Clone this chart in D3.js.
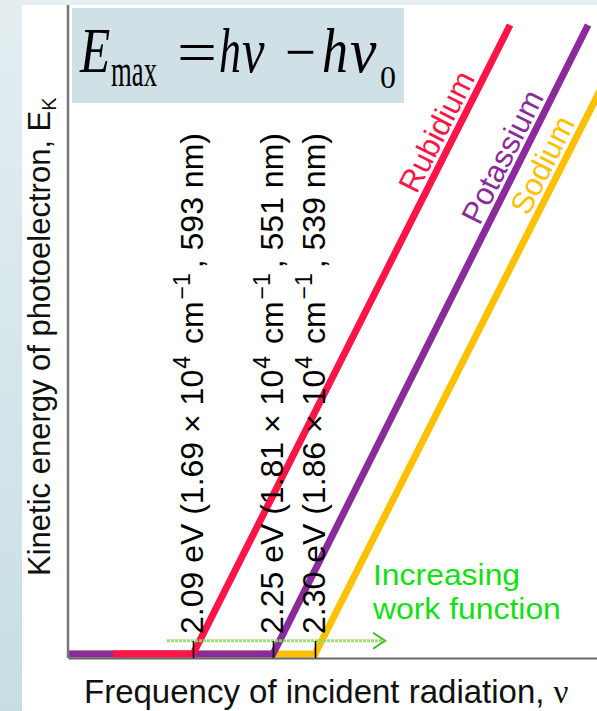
<!DOCTYPE html>
<html>
<head>
<meta charset="utf-8">
<script src="https://cdn.jsdelivr.net/npm/d3@7"></script>
<style>
  html, body { margin: 0; padding: 0; background: #fff; }
  svg { display: block; }
</style>
</head>
<body>
<div id="chart"></div>
<script>
// Photoelectric effect: kinetic energy of photoelectrons vs. frequency for three alkali metals
const metals = ["Rubidium", "Potassium", "Sodium"];
const workFunction = [2.09, 2.25, 2.30];      // threshold energy hν0, eV
const wavenumber = ["1.69", "1.81", "1.86"];  // threshold, ×10^4 cm^-1
const wavelength = [593, 551, 539];           // threshold, nm
const metalColors = ["#ff1447", "#8b2b9b", "#ffc000"];
const flatStart = [1.93, 1.84, 1.84];         // where each zero-energy run begins (ν axis, eV)
const lineEnd = [2.715, 2.881, 2.977];        // ν at the top of each line
const lineTopE = [1, 1, 1];                   // relative kinetic energy at the top of each line
const labelAt = [0.725, 0.675, 0.69];         // relative energy where each metal name starts
const arrowSpan = [2.038, 2.449];             // "increasing work function" arrow, ν axis
const arrowE = 0.021;

const W = 597, H = 711;
const svg = d3.select("#chart").append("svg")
  .attr("width", W).attr("height", H);

// page background: pale blue frame on the left and top
const defs = svg.append("defs");
const grad = defs.append("linearGradient").attr("id", "side")
  .attr("x1", 0).attr("y1", 0).attr("x2", 0).attr("y2", 1);
grad.append("stop").attr("offset", "0%").attr("stop-color", "#e4eef1");
grad.append("stop").attr("offset", "100%").attr("stop-color", "#c7dee5");
svg.append("rect").attr("width", W).attr("height", H).attr("fill", "#fff");
svg.append("rect").attr("x", 0).attr("y", 0).attr("width", W).attr("height", 5).attr("fill", "#e6eff2");
svg.append("rect").attr("x", 0).attr("y", 0).attr("width", 22).attr("height", H).attr("fill", "url(#side)");

// scales: the frequency axis is schematic, so it is piecewise linear
const x = d3.scaleLinear().domain([1.84, 2.25, 2.30, 2.90]).range([68, 273, 315, 597]);
const y = d3.scaleLinear().domain([0, 1]).range([654, 25]);

// formula box: E_max = hν − hν0, each piece fitted to its own width
svg.append("rect").attr("x", 72).attr("y", 8).attr("width", 332).attr("height", 95)
  .attr("fill", "#cfe1e6");
const formula = [
  {t: "E",   x: 80,  y: 72, size: 64, it: true,  w: 31},
  {t: "max", x: 111, y: 86, size: 46, it: false, w: 46},
  {t: "=",   x: 177, y: 72, size: 60, it: false, w: 40},
  {t: "h",   x: 219, y: 72, size: 64, it: true,  w: 22},
  {t: "ν",   x: 242, y: 72, size: 64, it: true,  w: 23},
  {t: "−",   x: 285, y: 72, size: 60, it: false, w: 31},
  {t: "h",   x: 322, y: 72, size: 64, it: true,  w: 26},
  {t: "ν",   x: 350, y: 72, size: 64, it: true,  w: 27},
  {t: "0",   x: 380, y: 88, size: 32, it: false, w: 16}
];
const fG = svg.append("g");
formula.forEach(d => {
  const t = fG.append("text")
    .attr("font-family", "'Liberation Serif', 'Times New Roman', serif")
    .attr("font-size", d.size)
    .attr("font-style", d.it ? "italic" : "normal")
    .attr("fill", "#000")
    .text(d.t);
  const bw = t.node().getBBox().width || d.w;
  t.attr("transform", `translate(${d.x},${d.y}) scale(${d.w / bw},1)`);
});

// metal lines: zero below threshold, rising linearly above it (drawn back to front)
const order = [2, 1, 0];
const line = d3.line().x(d => x(d[0])).y(d => y(d[1]));
const plot = svg.append("g");
plot.selectAll("path").data(order).join("path")
  .attr("d", i => line([[flatStart[i], 0], [workFunction[i], 0], [lineEnd[i], lineTopE[i]]]))
  .attr("fill", "none")
  .attr("stroke", i => metalColors[i])
  .attr("stroke-width", 7)
  .attr("stroke-linejoin", "miter");

// metal names along their lines
const nameG = svg.append("g");
metals.forEach((m, i) => {
  const x0 = x(workFunction[i]), y0 = y(0);
  const x1 = x(lineEnd[i]), y1 = y(lineTopE[i]);
  const ang = Math.atan2(y1 - y0, x1 - x0);
  const f = labelAt[i];
  const px = x0 + (x1 - x0) * f, py = y0 + (y1 - y0) * f;
  const off = 7;
  const ax = px + Math.sin(ang) * off, ay = py - Math.cos(ang) * off;
  nameG.append("text")
    .attr("transform", `translate(${ax},${ay}) rotate(${ang * 180 / Math.PI})`)
    .attr("font-family", "'Liberation Sans', Arial, sans-serif")
    .attr("font-size", 31)
    .attr("fill", metalColors[i])
    .text(m);
});

// "increasing work function" arrow
const ay = y(arrowE);
svg.append("line")
  .attr("x1", x(arrowSpan[0])).attr("x2", x(arrowSpan[1]))
  .attr("y1", ay).attr("y2", ay)
  .attr("stroke", "#8fdc6a").attr("stroke-width", 3).attr("stroke-dasharray", "3,1")
  .attr("opacity", 0.9);
svg.append("path")
  .attr("d", `M${x(arrowSpan[1]) - 12},${ay - 8}L${x(arrowSpan[1])},${ay}L${x(arrowSpan[1]) - 12},${ay + 8}`)
  .attr("fill", "none").attr("stroke", "#3cc020").attr("stroke-width", 2);
const green = svg.append("g").attr("transform", "translate(373,0) scale(1.1,1)")
  .attr("font-family", "'Liberation Sans', Arial, sans-serif")
  .attr("font-size", 29).attr("fill", "#12e012");
green.append("text").attr("x", 0).attr("y", 585).text("Increasing");
green.append("text").attr("x", 0).attr("y", 619).text("work function");

// axes: frequency axis with threshold ticks, energy axis without ticks
svg.append("line").attr("x1", 68).attr("x2", 68).attr("y1", 5).attr("y2", 658)
  .attr("stroke", "#777").attr("stroke-width", 2.5);
const xAxis = svg.append("g").attr("transform", "translate(0,658)")
  .call(d3.axisTop(x).tickValues(workFunction).tickSize(17).tickFormat("").tickSizeOuter(0));
xAxis.select(".domain").attr("stroke", "#666").attr("stroke-width", 2);
xAxis.selectAll(".tick line").attr("stroke", "#000").attr("stroke-width", 1.6);

// threshold labels, written upward beside each tick
const thr = svg.append("g")
  .attr("font-family", "'Liberation Sans', Arial, sans-serif")
  .attr("font-size", 32).attr("fill", "#000");
workFunction.forEach((wf, i) => {
  const t = thr.append("text")
    .attr("transform", `translate(${x(wf) + 10},634) rotate(-90)`);
  t.append("tspan").text(`${wf.toFixed(2)} eV (${wavenumber[i]} × 10`);
  t.append("tspan").attr("font-size", 23).attr("dy", -13).attr("dx", 1).text("4");
  t.append("tspan").attr("dy", 13).attr("dx", 3).text(" cm");
  t.append("tspan").attr("font-size", 23).attr("dy", -13).attr("dx", 2).text("−1");
  t.append("tspan").attr("dy", 13).attr("dx", 5).text(`, ${wavelength[i]} nm)`);
});

// axis titles
svg.append("text").attr("x", 84).attr("y", 703)
  .attr("font-family", "'Liberation Sans', Arial, sans-serif")
  .attr("font-size", 33).attr("fill", "#111")
  .text("Frequency of incident radiation, ")
  .append("tspan").attr("font-family", "'Liberation Serif', 'Times New Roman', serif").text("ν");
const yt = svg.append("text").attr("transform", "translate(50,576) rotate(-90)")
  .attr("font-family", "'Liberation Sans', Arial, sans-serif")
  .attr("font-size", 31).attr("fill", "#111");
yt.append("tspan").text("Kinetic energy of photoelectron, ");
yt.append("tspan").text("E");
yt.append("tspan").attr("font-size", 20).attr("dy", 6).text("K");
</script>
</body>
</html>
